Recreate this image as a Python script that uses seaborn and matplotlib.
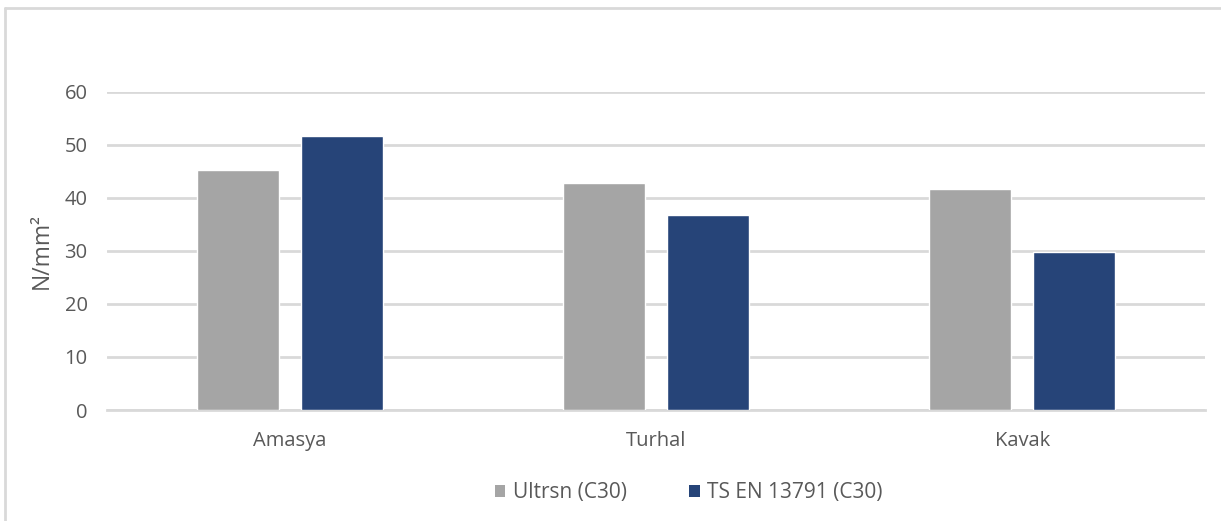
import matplotlib
matplotlib.use("Agg")
import matplotlib.pyplot as plt
from matplotlib.lines import Line2D
from matplotlib.patches import Patch
import pandas as pd
import seaborn as sns

# Compressive strength by location and method
locations = ["Amasya", "Turhal", "Kavak"]
series_names = ["Ultrsn (C30)", "TS EN 13791 (C30)"]
ultrasonic = [45.2, 42.8, 41.6]
ts_en_13791 = [51.6, 36.8, 29.8]
y_ticks = [0, 10, 20, 30, 40, 50, 60]

colors = ["#A5A5A5", "#264478"]
text_color = "#595959"
grid_color = "#D9D9D9"

df = pd.DataFrame({
    "Location": locations * 2,
    "Series": [series_names[0]] * 3 + [series_names[1]] * 3,
    "Value": ultrasonic + ts_en_13791,
})

sns.set_theme(style="white")
plt.rcParams["font.family"] = ["Open Sans", "DejaVu Sans"]

fig = plt.figure(figsize=(12.21, 5.21), dpi=100)
ax = fig.add_axes([0.0876, 0.213, 0.8995, 0.611])

sns.barplot(data=df, x="Location", y="Value", hue="Series", hue_order=series_names,
            palette=colors, width=0.568, gap=0.21, saturation=1, ax=ax,
            legend=False, zorder=3)

ax.set_ylim(0, 60)
ax.set_yticks(y_ticks)
ax.set_xlim(-0.5, 2.5)
ax.yaxis.grid(True, color=grid_color, linewidth=2)
ax.set_axisbelow(True)
for s in ["left", "right", "top"]:
    ax.spines[s].set_visible(False)
ax.spines["bottom"].set_color(grid_color)
ax.spines["bottom"].set_linewidth(2)
ax.tick_params(axis="both", length=0, colors=text_color, labelsize=14.5)
ax.tick_params(axis="y", pad=14)
ax.tick_params(axis="x", pad=15)
ax.set_xlabel("")
ax.set_ylabel("N/mm²", color=text_color, fontsize=16.5, labelpad=8)

handles = [Patch(facecolor=c, edgecolor="none") for c in colors]
fig.legend(handles, series_names, loc="center", bbox_to_anchor=(0.564, 0.054),
           ncol=2, frameon=False, fontsize=15, labelcolor=text_color,
           handlelength=0.5, handleheight=0.5, handletextpad=0.35,
           columnspacing=3.0)

# chart frame (top and left edges)
fig.add_artist(Line2D([0.0045, 1.0], [0.985, 0.985], color=grid_color, linewidth=2,
                      transform=fig.transFigure))
fig.add_artist(Line2D([0.0045, 0.0045], [0.0, 0.985], color=grid_color, linewidth=2,
                      transform=fig.transFigure))

fig.savefig("out.png", dpi=100, facecolor="white")
